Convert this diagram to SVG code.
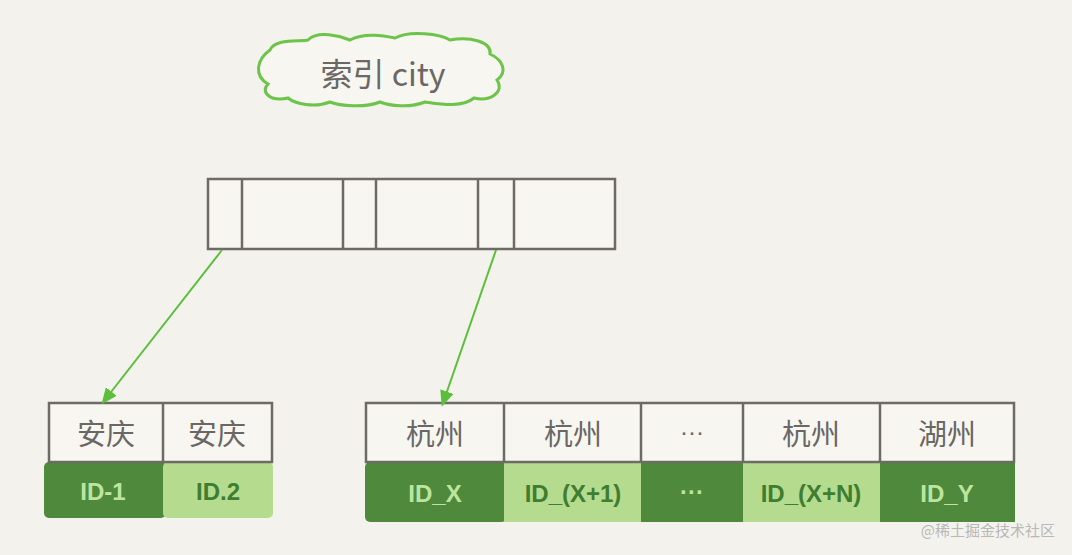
<svg xmlns="http://www.w3.org/2000/svg" width="1072" height="555" viewBox="0 0 1072 555">
<style>
.cell{fill:#f7f6f1;stroke:#6e6a66;stroke-width:2.5}
.div{stroke:#6e6a66;stroke-width:2.5}
.t{font-family:"Noto Sans CJK SC","Liberation Sans",sans-serif;font-size:29px;fill:#6a6764;text-anchor:middle}
.dk{fill:#4f8a3c}
.lt{fill:#b4db8e}
.id{font-family:"Liberation Sans",sans-serif;font-size:24px;font-weight:bold;text-anchor:middle}
.idd{fill:#bde59f}
.idl{fill:#3f7d31}
.arr{stroke:#5cbf3c;stroke-width:2;fill:none;marker-end:url(#ah)}
</style>
<defs>
<marker id="ah" markerWidth="16" markerHeight="14" refX="12" refY="7" orient="auto" markerUnits="userSpaceOnUse" viewBox="0 0 16 14">
<path d="M0,0 L16,7 L0,14 z" fill="#5cbf3c"/>
</marker>
</defs>
<rect width="1072" height="555" fill="#f3f2ec"/>
<g id="title">
<path d="M270,50 C275,38 300,42 308,40 C318,30 340,36 350,40 C365,32 385,36 395,38 C410,30 440,34 450,40 C470,36 492,42 490,54 C503,60 508,72 497,80 C505,92 490,102 474,98 C462,108 440,104 425,102 C410,108 390,106 380,102 C365,108 340,106 330,102 C315,108 295,104 288,98 C270,102 260,92 268,84 C254,76 256,60 270,50 Z" fill="#f7f6f1" stroke="#6cc44a" stroke-width="3"/>
<text x="383" y="86" font-family="Noto Sans CJK SC,Liberation Sans,sans-serif" font-size="32" fill="#6a6764" text-anchor="middle">索引 city</text>
</g>
<g id="root">
<rect x="208" y="179" width="407" height="70" class="cell"/>
<line x1="242" y1="179" x2="242" y2="249" class="div"/>
<line x1="343" y1="179" x2="343" y2="249" class="div"/>
<line x1="376" y1="179" x2="376" y2="249" class="div"/>
<line x1="478" y1="179" x2="478" y2="249" class="div"/>
<line x1="514" y1="179" x2="514" y2="249" class="div"/>
</g>
<g id="leaf-anqing">
<rect x="44" y="462" width="122" height="56" rx="5" class="dk"/>
<rect x="163" y="462" width="110" height="56" rx="5" class="lt"/>
<rect x="49" y="403" width="223" height="59" class="cell"/>
<line x1="163" y1="403" x2="163" y2="462" class="div"/>
<text x="106" y="445" class="t">安庆</text>
<text x="217" y="445" class="t">安庆</text>
<text x="103" y="500" class="id idd">ID-1</text>
<text x="218" y="500" class="id idl">ID.2</text>
</g>
<g id="leaf-hangzhou">
<rect x="365" y="462" width="142" height="60" rx="5" class="dk"/>
<rect x="504" y="462" width="137" height="60" class="lt"/>
<rect x="641" y="462" width="104" height="60" class="dk"/>
<rect x="743" y="462" width="137" height="60" class="lt"/>
<rect x="880" y="462" width="135" height="60" class="dk"/>
<rect x="366" y="403" width="648" height="59" class="cell"/>
<line x1="504" y1="403" x2="504" y2="462" class="div"/>
<line x1="641" y1="403" x2="641" y2="462" class="div"/>
<line x1="743" y1="403" x2="743" y2="462" class="div"/>
<line x1="880" y1="403" x2="880" y2="462" class="div"/>
<text x="435" y="445" class="t">杭州</text>
<text x="573" y="445" class="t">杭州</text>
<text x="692" y="440" font-family="Liberation Sans,sans-serif" font-size="24" fill="#6a6764" text-anchor="middle">···</text>
<text x="811" y="445" class="t">杭州</text>
<text x="947" y="445" class="t">湖州</text>
<text x="435" y="502" class="id idd">ID_X</text>
<text x="573" y="502" class="id idl">ID_(X+1)</text>
<text x="692" y="500" class="id idd">···</text>
<text x="811" y="502" class="id idl">ID_(X+N)</text>
<text x="947" y="502" class="id idd">ID_Y</text>
</g>
<g id="connectors">
<line x1="222" y1="250" x2="104" y2="401" class="arr"/>
<line x1="496" y1="250" x2="443" y2="403" class="arr"/>
</g>
<text x="1055" y="536" font-family="Noto Sans CJK SC,Liberation Sans,sans-serif" font-size="15" fill="#a8a8a8" fill-opacity="0.8" text-anchor="end">@稀土掘金技术社区</text>
</svg>
